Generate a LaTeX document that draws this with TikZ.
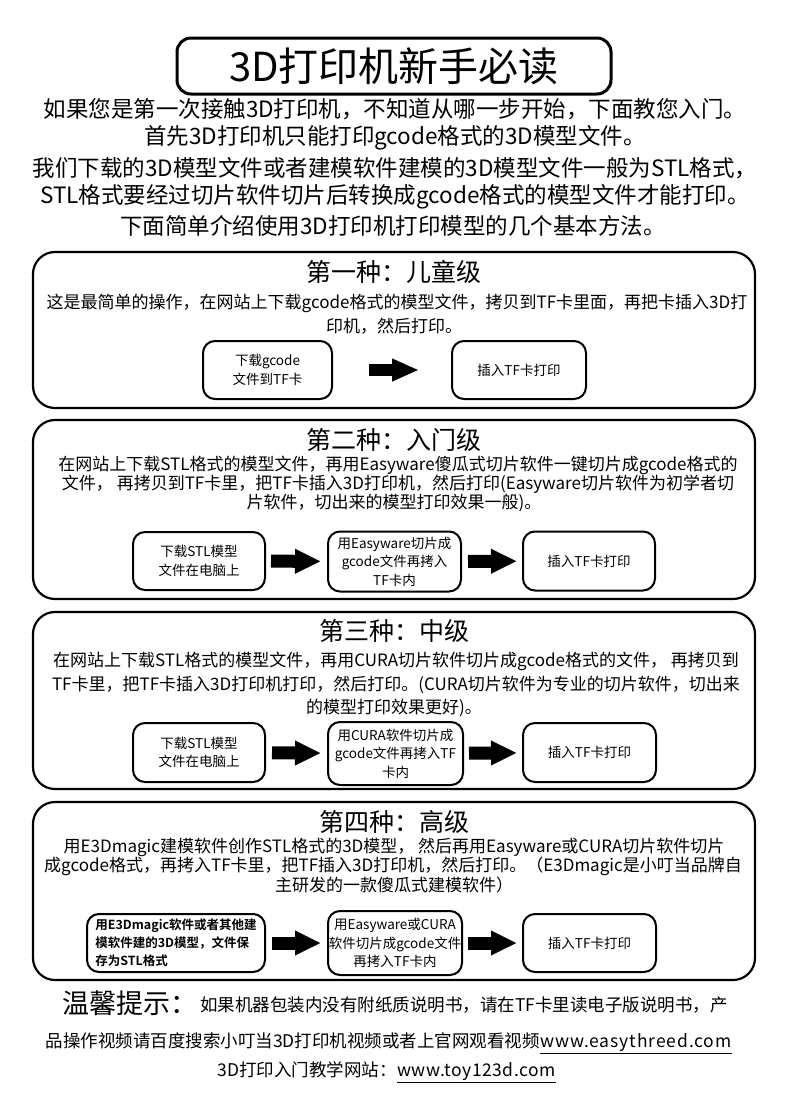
\documentclass[tikz,border=0pt]{standalone}
\usepackage{fontspec}
\setmainfont{Noto Sans CJK SC}[BoldFont={Noto Sans CJK SC Bold}]
\usetikzlibrary{arrows.meta}
\begin{document}
\begin{tikzpicture}[x=1pt,y=-1pt,
  titlebox/.style={draw, line width=3pt, rounded corners=14pt, minimum width=434pt, minimum height=56pt, inner sep=0pt, font=\fontsize{40}{44}\selectfont},
  intro/.style={inner sep=0pt, font=\fontsize{22.5}{26}\selectfont},
  secbox/.style={draw, line width=2.2pt, rounded corners=22pt, minimum width=722pt, inner sep=0pt},
  sectitle/.style={inner sep=0pt, font=\fontsize{25}{28}\selectfont},
  body/.style={inner sep=0pt, font=\fontsize{17}{20}\selectfont},
  stepbox/.style={draw, line width=2pt, rounded corners=12pt, align=center, inner sep=0pt, font=\fontsize{13.5}{18.5}\selectfont},
  blockarrow/.style={line width=13pt, -{Triangle[length=26pt,width=23pt]}},
  foot/.style={inner sep=0pt, font=\fontsize{17.5}{20}\selectfont},
]
\useasboundingbox (0,0) rectangle (790,1112);
\fill[white] (0,0) rectangle (790,1112);

% title
\node[titlebox] (title) at (394,66) {3D打印机新手必读};
\node[intro] (i1) at (395,109) {如果您是第一次接触3D打印机，不知道从哪一步开始，下面教您入门。};
\node[intro] (i2) at (395,138) {首先3D打印机只能打印gcode格式的3D模型文件。};
\node[intro] (i3) at (395,168) {我们下载的3D模型文件或者建模软件建模的3D模型文件一般为STL格式，};
\node[intro] (i4) at (395,197) {STL格式要经过切片软件切片后转换成gcode格式的模型文件才能打印。};
\node[intro] (i5) at (393,226) {下面简单介绍使用3D打印机打印模型的几个基本方法。};

% section 1
\node[secbox, minimum height=156pt] (s1) at (394,330) {};
\node[sectitle] (s1t) at (394,272) {第一种：儿童级};
\node[body] (s1l1) at (397,303) {这是最简单的操作，在网站上下载gcode格式的模型文件，拷贝到TF卡里面，再把卡插入3D打};
\node[body] (s1l2) at (394,326) {印机，然后打印。};
\node[stepbox, minimum width=129pt, minimum height=58pt] (s1a) at (267.5,370) {下载gcode\\文件到TF卡};
\node[stepbox, minimum width=134pt, minimum height=58pt] (s1b) at (519,370) {插入TF卡打印};
\draw[line width=12pt, -{Triangle[length=27pt,width=21pt]}, shorten <=36pt, shorten >=32pt] (s1a) -- (s1b);

% section 2
\node[secbox, minimum height=179pt] (s2) at (394,509.5) {};
\node[sectitle] (s2t) at (394,440) {第二种：入门级};
\node[body] (s2l1) at (398,465) {在网站上下载STL格式的模型文件，再用Easyware傻瓜式切片软件一键切片成gcode格式的};
\node[body] (s2l2) at (398,484) {文件， 再拷贝到TF卡里，把TF卡插入3D打印机，然后打印(Easyware切片软件为初学者切};
\node[body] (s2l3) at (394,503) {片软件，切出来的模型打印效果一般)。};
\node[stepbox, minimum width=132pt, minimum height=58pt] (s2a) at (199,561) {下载STL模型\\文件在电脑上};
\node[stepbox, minimum width=133pt, minimum height=60pt] (s2b) at (394.5,561.5) {用Easyware切片成\\gcode文件再拷入\\TF卡内};
\node[stepbox, minimum width=132pt, minimum height=59pt] (s2c) at (589,561) {插入TF卡打印};
\draw[blockarrow, shorten <=5pt, shorten >=6pt] (s2a) -- (s2b);
\draw[blockarrow, shorten <=6pt, shorten >=5pt] (s2b) -- (s2c);

% section 3
\node[secbox, minimum height=177pt] (s3) at (394,700.5) {};
\node[sectitle] (s3t) at (394,631) {第三种：中级};
\node[body] (s3l1) at (396,661) {在网站上下载STL格式的模型文件，再用CURA切片软件切片成gcode格式的文件， 再拷贝到};
\node[body] (s3l2) at (396,684.5) {TF卡里，把TF卡插入3D打印机打印，然后打印。(CURA切片软件为专业的切片软件，切出来};
\node[body] (s3l3) at (394,708) {的模型打印效果更好)。};
\node[stepbox, minimum width=132pt, minimum height=59pt] (s3a) at (199,752.5) {下载STL模型\\文件在电脑上};
\node[stepbox, minimum width=135pt, minimum height=63pt] (s3b) at (395.5,753.5) {用CURA软件切片成\\gcode文件再拷入TF\\卡内};
\node[stepbox, minimum width=133pt, minimum height=59pt] (s3c) at (589.5,752.5) {插入TF卡打印};
\draw[blockarrow, shorten <=6pt, shorten >=6pt] (s3a) -- (s3b);
\draw[blockarrow, shorten <=5pt, shorten >=5pt] (s3b) -- (s3c);

% section 4
\node[secbox, minimum height=178pt] (s4) at (394,891) {};
\node[sectitle] (s4t) at (394,822) {第四种：高级};
\node[body] (s4l1) at (394,847) {用E3Dmagic建模软件创作STL格式的3D模型， 然后再用Easyware或CURA切片软件切片};
\node[body] (s4l2) at (393,866) {成gcode格式，再拷入TF卡里，把TF插入3D打印机，然后打印。（E3Dmagic是小叮当品牌自};
\node[body] (s4l3) at (394,885) {主研发的一款傻瓜式建模软件）};
\node[stepbox, minimum width=178pt, minimum height=58pt, align=left, font=\fontsize{12.5}{18}\selectfont\bfseries] (s4a) at (176,943) {用E3Dmagic软件或者其他建\\模软件建的3D模型，文件保\\存为STL格式};
\node[stepbox, minimum width=134pt, minimum height=64pt] (s4b) at (395,943) {用Easyware或CURA\\软件切片成gcode文件\\再拷入TF卡内};
\node[stepbox, minimum width=133pt, minimum height=58pt] (s4c) at (589.5,943) {插入TF卡打印};
\draw[blockarrow, shorten <=6pt, shorten >=6pt] (s4a) -- (s4b);
\draw[blockarrow, shorten <=5pt, shorten >=5pt] (s4b) -- (s4c);

% footer
\node[inner sep=0pt, anchor=west, font=\fontsize{27}{30}\selectfont] (f1a) at (62,1003) {温馨提示：};
\node[foot, anchor=west] (f1b) at (200,1005) {如果机器包装内没有附纸质说明书，请在TF卡里读电子版说明书，产};
\node[foot, anchor=base east] (f2a) at (540,1047) {品操作视频请百度搜索小叮当3D打印机视频或者上官网观看视频};
\node[foot, anchor=base west] (f2b) at (f2a.base east) {\addfontfeature{LetterSpace=5}www.easythreed.com};
\draw[line width=1.5pt] ([yshift=-2pt]f2b.south west) -- ([yshift=-2pt]f2b.south east);
\node[foot, anchor=base east] (f3a) at (397,1076) {3D打印入门教学网站：};
\node[foot, anchor=base west] (f3b) at (f3a.base east) {\addfontfeature{LetterSpace=3}www.toy123d.com};
\draw[line width=1.5pt] ([yshift=-2pt]f3b.south west) -- ([yshift=-2pt]f3b.south east);
\end{tikzpicture}
\end{document}
